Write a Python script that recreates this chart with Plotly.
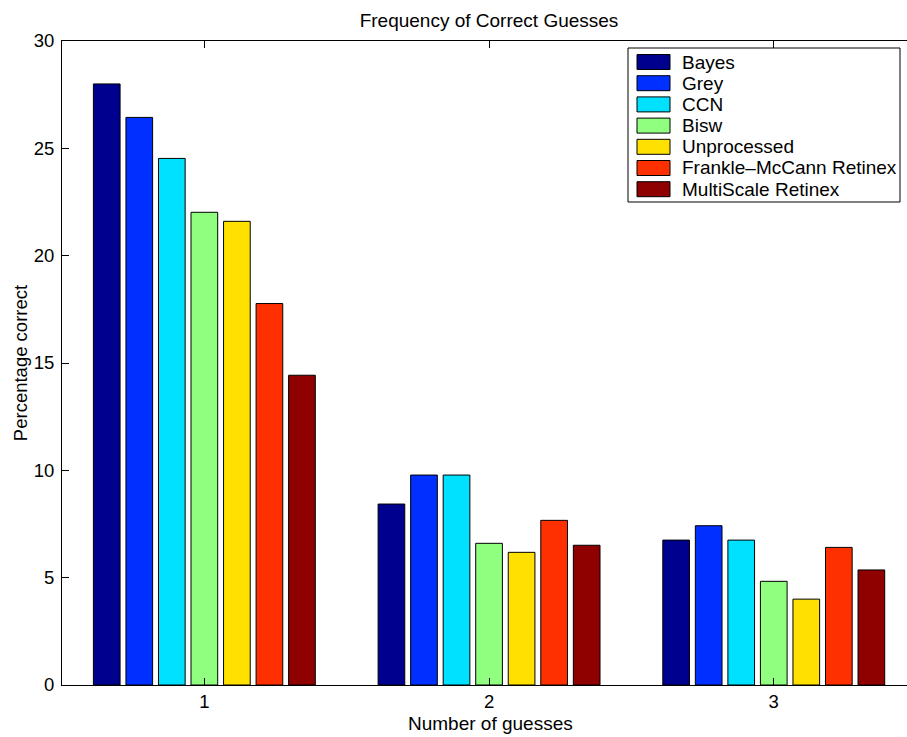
import plotly.graph_objects as go

guesses = [1, 2, 3]
tick_labels = ["1", "2", "3"]
series_names = ["Bayes", "Grey", "CCN", "Bisw", "Unprocessed",
                "Frankle\u2013McCann Retinex", "MultiScale Retinex"]
bayes = [28.0, 8.43, 6.75]
grey = [26.44, 9.78, 7.42]
ccn = [24.53, 9.78, 6.75]
bisw = [22.02, 6.60, 4.83]
unprocessed = [21.60, 6.18, 4.00]
frankle = [17.77, 7.67, 6.41]
multiscale = [14.43, 6.51, 5.36]
series_values = [bayes, grey, ccn, bisw, unprocessed, frankle, multiscale]
colors = ["#00008F", "#0030FF", "#00E0FF", "#90FF80", "#FFE000", "#FF3000", "#8F0000"]

FONT = "Liberation Sans, Arial, Helvetica, sans-serif"
W, H = 907, 737
ML, MR, MT, MB = 62, 0, 41, 52
PW, PH = W - ML - MR, H - MT - MB


def px_x(p):
    return (p - ML) / PW


def px_y(p):
    return (H - MB - p) / PH


fig = go.Figure()
for name, vals, col in zip(series_names, series_values, colors):
    fig.add_trace(go.Bar(x=guesses, y=vals, name=name, showlegend=False,
                         marker=dict(color=col, line=dict(color="black", width=1))))

# custom legend box (matches MATLAB-style wide swatches)
shapes = [dict(type="rect", xref="paper", yref="paper",
               x0=px_x(628), x1=px_x(900), y0=px_y(202), y1=px_y(48),
               line=dict(color="black", width=1), fillcolor="white", layer="above")]
annotations = []
row0, row_step = 62, 21.2
for i, (name, col) in enumerate(zip(series_names, colors)):
    cy = row0 + i * row_step
    shapes.append(dict(type="rect", xref="paper", yref="paper",
                       x0=px_x(637), x1=px_x(670), y0=px_y(cy + 7.5), y1=px_y(cy - 7.5),
                       line=dict(color="black", width=1), fillcolor=col, layer="above"))
    annotations.append(dict(text=name, xref="paper", yref="paper", x=px_x(680), y=px_y(cy),
                            xanchor="left", yanchor="middle", showarrow=False,
                            font=dict(size=19, family=FONT, color="black")))

# x-axis title (centred on the full MATLAB axes, which extends past the right edge)
annotations.append(dict(text="Number of guesses", xref="paper", yref="paper",
                        x=px_x(490), y=px_y(723), xanchor="center", yanchor="middle",
                        showarrow=False, borderpad=0,
                        font=dict(size=19, family=FONT, color="black")))

fig.update_layout(
    width=W, height=H,
    margin=dict(l=ML, r=MR, t=MT, b=MB),
    paper_bgcolor="white", plot_bgcolor="white",
    font=dict(family=FONT, size=19, color="black"),
    barmode="group", bargap=0.2, bargroupgap=0.18,
    title=dict(text="Frequency of Correct Guesses", x=489 / W, xanchor="center",
               y=1 - 20 / H, yanchor="middle", font=dict(size=19)),
    showlegend=False,
    shapes=shapes, annotations=annotations,
    xaxis=dict(range=[0.5, 3.468], tickvals=guesses, ticktext=tick_labels,
               ticks="inside", ticklen=7, tickcolor="black",
               showline=True, linecolor="black", linewidth=1, mirror="ticks",
               showgrid=False, zeroline=False, tickfont=dict(size=18.5),
               automargin=False),
    yaxis=dict(range=[0, 30], tickvals=[0, 5, 10, 15, 20, 25, 30],
               ticks="inside", ticklen=7, tickcolor="black",
               showline=True, linecolor="black", linewidth=1,
               showgrid=False, zeroline=False, tickfont=dict(size=18.5),
               ticklabelstandoff=3, automargin=False,
               title=dict(text="Percentage correct", standoff=1, font=dict(size=18.5))),
)

fig.write_html("out.html", config={"displayModeBar": False},
               post_script="document.body.style.margin='0';document.body.style.padding='0';")
